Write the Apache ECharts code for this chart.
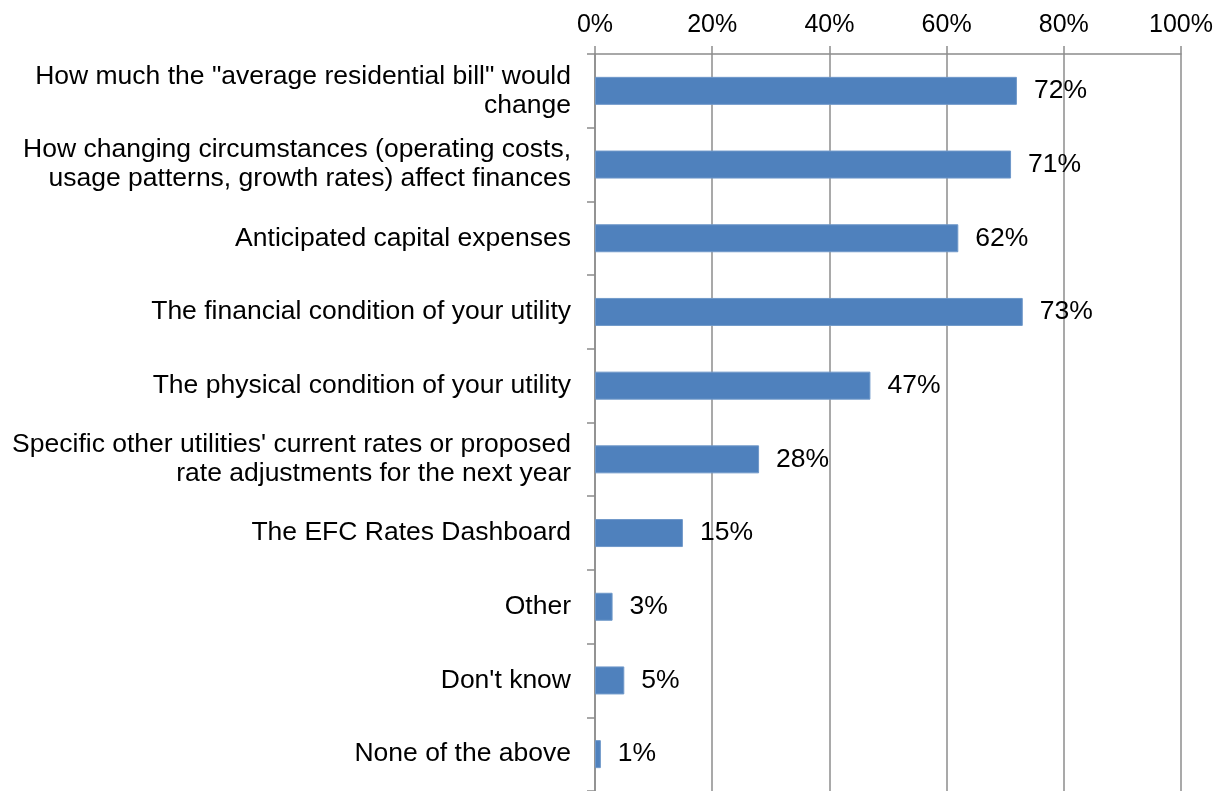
<!DOCTYPE html>
<html>
<head>
<meta charset="utf-8">
<script src="https://cdn.jsdelivr.net/npm/echarts@6/dist/echarts.min.js"></script>
<style>
  html, body { margin: 0; padding: 0; background: #ffffff; }
  #chart { width: 1228px; height: 791px; }
</style>
</head>
<body>
<div id="chart"></div>
<script>
// Survey answers, listed top to bottom
const categories = [
  'How much the "average residential bill" would\nchange',
  'How changing circumstances (operating costs,\nusage patterns, growth rates) affect finances',
  'Anticipated capital expenses',
  'The financial condition of your utility',
  'The physical condition of your utility',
  "Specific other utilities' current rates or proposed\nrate adjustments for the next year",
  'The EFC Rates Dashboard',
  'Other',
  "Don't know",
  'None of the above'
];

// Share of respondents (percent)
const shares = [72, 71, 62, 73, 47, 28, 15, 3, 5, 1];

// Percent axis ticks
const axisMin = 0;
const axisMax = 100;
const axisStep = 20;

const FONT = '"Liberation Sans", Arial, sans-serif';
const GRID_GRAY = '#8c8c8c';

const chart = echarts.init(document.getElementById('chart'), null, { renderer: 'canvas' });

chart.setOption({
  animation: false,
  backgroundColor: '#ffffff',
  grid: { left: 595, right: 47, top: 54, bottom: 0, containLabel: false },
  xAxis: {
    type: 'value',
    position: 'top',
    min: axisMin,
    max: axisMax,
    interval: axisStep,
    axisLine: { show: true, lineStyle: { color: GRID_GRAY, width: 1.5 } },
    axisTick: { show: true, length: 8, inside: false, lineStyle: { color: GRID_GRAY, width: 1.5 } },
    splitLine: { show: true, lineStyle: { color: GRID_GRAY, width: 1.5 } },
    axisLabel: {
      margin: 16,
      color: '#000000',
      fontFamily: FONT,
      fontSize: 25,
      formatter: v => v + '%'
    }
  },
  yAxis: {
    type: 'category',
    data: categories,
    inverse: true,
    axisLine: { show: true, lineStyle: { color: GRID_GRAY, width: 1.5 } },
    axisTick: { show: true, length: 8, alignWithLabel: false, lineStyle: { color: GRID_GRAY, width: 1.5 } },
    splitLine: { show: false },
    axisLabel: {
      margin: 24,
      color: '#000000',
      fontFamily: FONT,
      fontSize: 26.5,
      lineHeight: 29,
      align: 'right'
    }
  },
  series: [{
    type: 'bar',
    data: shares,
    barWidth: 28,
    itemStyle: { color: '#4f81bd', borderColor: '#6f98c9', borderWidth: 1 },
    label: {
      show: true,
      position: 'right',
      distance: 17,
      color: '#000000',
      fontFamily: FONT,
      fontSize: 26.5,
      formatter: p => p.value + '%'
    }
  }]
});
</script>
</body>
</html>
